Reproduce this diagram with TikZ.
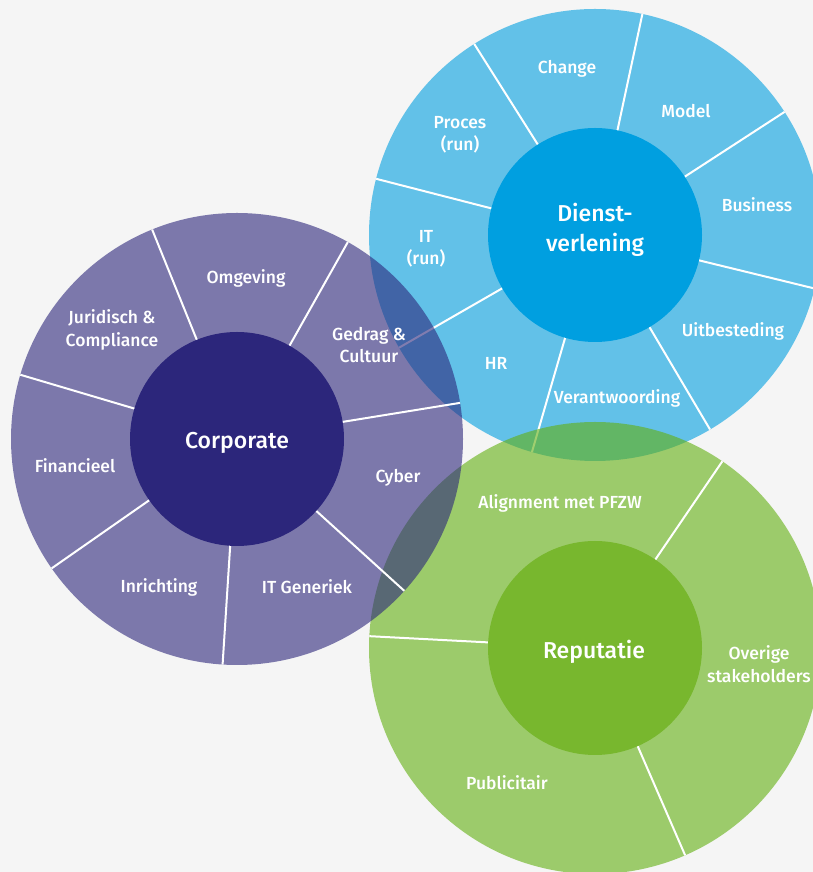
\documentclass[tikz,border=0pt]{standalone}
\usepackage{fontspec}
\setmainfont{Fira Sans}[BoldFont={Fira Sans Medium}]
\definecolor{bg}{HTML}{F5F5F5}
\definecolor{corporate}{RGB}{44,38,123}
\definecolor{dienst}{RGB}{0,159,224}
\definecolor{reputring}{RGB}{98,175,15}
\definecolor{reputhub}{RGB}{120,183,46}
\tikzset{
  ring/.style={fill=#1, fill opacity=0.6},
  spoke/.style={draw=white, line width=2pt},
  hub/.style={fill=#1},
  lbl/.style={text=white, align=center, font=\bfseries\fontsize{17.5}{22.5}\selectfont},
  hublbl/.style={text=white, align=center, font=\bfseries\fontsize{23}{30}\selectfont}
}
\begin{document}
\begin{tikzpicture}[x=1pt,y=1pt]
\fill [bg] (0,0) rectangle (813,872);
\useasboundingbox (0,0) rectangle (813,872);

\coordinate (dv) at (595,637);
\coordinate (rp) at (595,224);
\coordinate (cp) at (237,433);

\fill [ring=dienst] (dv) circle (226pt);
\foreach \a in {-13.7,33,77.9,122.3,165.6,209.9,253.8,300.6}
  \draw [spoke] (dv) ++(\a:100pt) -- ++(\a:126pt);
\fill [hub=dienst] (dv) circle (107pt);

\fill [ring=reputring] (rp) circle (226pt);
\foreach \a in {55.7,177,293.5}
  \draw [spoke] (rp) ++(\a:100pt) -- ++(\a:126pt);
\fill [hub=reputhub] (rp) circle (107pt);

\fill [ring=corporate] (cp) circle (226pt);
\foreach \i in {0,...,6}
  \draw [spoke] (cp) ++({9.2+\i*360/7}:100pt) -- ++({9.2+\i*360/7}:126pt);
\fill [hub=corporate] (cp) circle (107pt);

\node [hublbl] (corp) at (237,429) {Corporate};
\node [lbl] (omgeving) at (246,594) {Omgeving};
\node [lbl] (juridisch) at (112,542) {Juridisch \&\\Compliance};
\node [lbl] (financieel) at (75,406) {Financieel};
\node [lbl] (inrichting) at (159,285) {Inrichting};
\node [lbl] (itgeneriek) at (307,285) {IT Generiek};
\node [lbl] (cyber) at (398,394) {Cyber};
\node [lbl] (gedrag) at (369,527) {Gedrag \&\\Cultuur};

\node [hublbl] (dienstv) at (595,642) {Dienst-\\verlening};
\node [lbl] (change) at (567,803) {Change};
\node [lbl] (model) at (686,761) {Model};
\node [lbl] (business) at (757,667) {Business};
\node [lbl] (uitbesteding) at (733,541) {Uitbesteding};
\node [lbl] (verantw) at (617,474) {Verantwoording};
\node [lbl] (hr) at (496,509) {HR};
\node [lbl] (itrun) at (426,623) {IT\\(run)};
\node [lbl] (procesrun) at (460,737) {Proces\\(run)};

\node [hublbl] (reputatie) at (594,220) {Reputatie};
\node [lbl] (alignment) at (560,369) {Alignment met PFZW};
\node [lbl] (overige) at (759,208) {Overige\\stakeholders};
\node [lbl] (publicitair) at (507,89) {Publicitair};
\end{tikzpicture}
\end{document}
